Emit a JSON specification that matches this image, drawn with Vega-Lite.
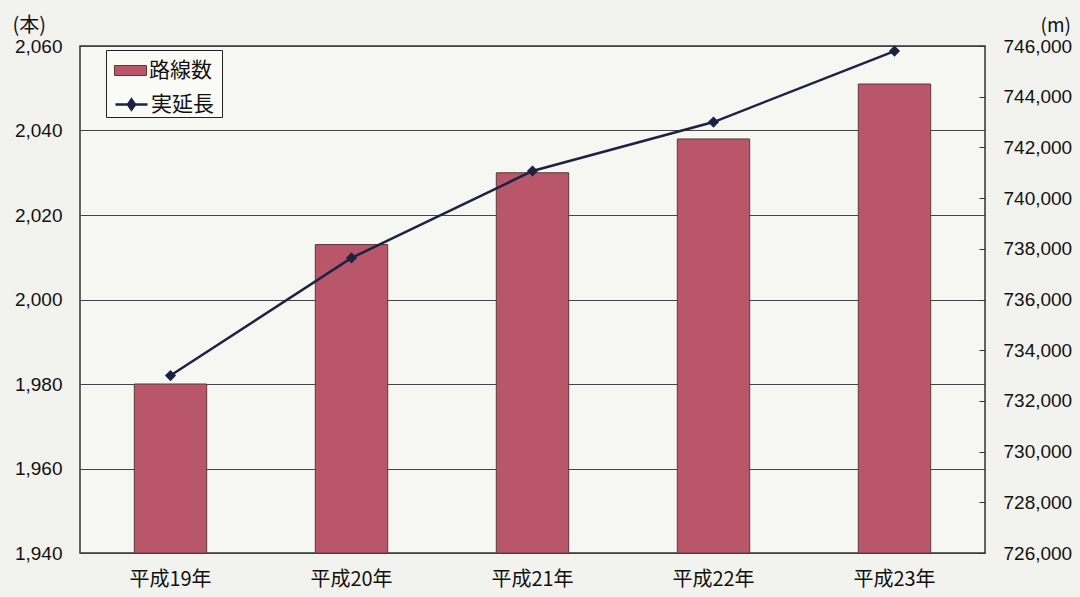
{
  "$schema": "https://vega.github.io/schema/vega-lite/v6.json",
  "width": 905,
  "height": 507,
  "autosize": "none",
  "padding": {"left": 80, "top": 46, "right": 95, "bottom": 44},
  "background": "#f2f3ee",
  "config": {
    "view": {"stroke": "#333333", "strokeWidth": 1.5, "fill": "#f6f7f3"},
    "font": "Noto Sans CJK JP",
    "legend": {
      "orient": "none",
      "labelFontSize": 21,
      "labelColor": "#111111",
      "symbolSize": 400,
      "symbolOffset": 4,
      "labelOffset": 8,
      "padding": 10
    }
  },
  "data": {
    "values": [
      {"year": "平成19年", "routes": 1980, "length": 733000},
      {"year": "平成20年", "routes": 2013, "length": 737640},
      {"year": "平成21年", "routes": 2030, "length": 741070},
      {"year": "平成22年", "routes": 2038, "length": 743000},
      {"year": "平成23年", "routes": 2051, "length": 745800}
    ]
  },
  "encoding": {
    "x": {
      "field": "year",
      "type": "nominal",
      "sort": null,
      "scale": {"paddingInner": 0.6, "paddingOuter": 0.3},
      "axis": {
        "title": null,
        "labelAngle": 0,
        "labelFontSize": 20,
        "labelPadding": 16,
        "labelColor": "#111111",
        "ticks": false,
        "domain": false
      }
    }
  },
  "layer": [
    {
      "mark": {"type": "bar", "stroke": "#5a3a3a", "strokeWidth": 1},
      "encoding": {
        "y": {
          "field": "routes",
          "type": "quantitative",
          "scale": {"domain": [1940, 2060], "zero": false, "nice": false},
          "axis": {
            "values": [1940, 1960, 1980, 2000, 2020, 2040, 2060],
            "format": ",d",
            "grid": true,
            "gridColor": "#444444",
            "gridWidth": 1,
            "ticks": false,
            "domain": false,
            "labelFont": "Liberation Sans",
            "labelFontSize": 19,
            "labelColor": "#111111",
            "labelPadding": 18,
            "title": "(本)",
            "titleAngle": 0,
            "titleAlign": "left",
            "titleBaseline": "alphabetic",
            "titleX": -68,
            "titleY": -15,
            "titleFontSize": 20,
            "titleFontWeight": "normal",
            "titleColor": "#111111"
          }
        },
        "y2": {"datum": 1940},
        "fill": {
          "datum": "路線数",
          "type": "nominal",
          "scale": {"domain": ["路線数"], "range": ["#b9566a"]},
          "legend": {
            "title": " ",
            "titleOrient": "bottom",
            "titleFontSize": 20,
            "titlePadding": 6,
            "legendX": 26,
            "legendY": 4,
            "strokeColor": "#222222",
            "fillColor": "#fafaf7",
            "symbolType": "M-1.6,-0.5H1.6V0.5H-1.6Z",
            "symbolStrokeColor": "#5a3a3a",
            "symbolStrokeWidth": 1,
            "symbolOpacity": 1
          }
        }
      }
    },
    {
      "mark": {
        "type": "line",
        "strokeWidth": 2.5,
        "point": {"shape": "diamond", "size": 70, "filled": true, "fill": "#1d2244"}
      },
      "encoding": {
        "y": {
          "field": "length",
          "type": "quantitative",
          "scale": {"domain": [726000, 746000], "zero": false, "nice": false},
          "axis": {
            "orient": "right",
            "values": [726000, 728000, 730000, 732000, 734000, 736000, 738000, 740000, 742000, 744000, 746000],
            "format": ",d",
            "grid": false,
            "ticks": true,
            "tickSize": -6,
            "tickColor": "#333333",
            "domain": false,
            "labelFont": "Liberation Sans",
            "labelFontSize": 19,
            "labelColor": "#111111",
            "labelPadding": 24,
            "title": "(m)",
            "titleAngle": 0,
            "titleAlign": "left",
            "titleBaseline": "alphabetic",
            "titleX": 55,
            "titleY": -15,
            "titleFontSize": 19,
            "titleFontWeight": "normal",
            "titleColor": "#111111"
          }
        },
        "stroke": {
          "datum": "実延長",
          "type": "nominal",
          "scale": {"domain": ["実延長"], "range": ["#1d2244"]},
          "legend": {
            "title": null,
            "legendX": 26,
            "legendY": 37,
            "symbolType": "M-1.6,0H1.6M0,-0.5L0.35,0L0,0.5L-0.35,0Z",
            "symbolStrokeWidth": 2.5,
            "symbolFillColor": "#1d2244",
            "symbolStrokeColor": "#1d2244",
            "symbolOpacity": 1
          }
        }
      }
    }
  ],
  "resolve": {"scale": {"y": "independent"}}
}
